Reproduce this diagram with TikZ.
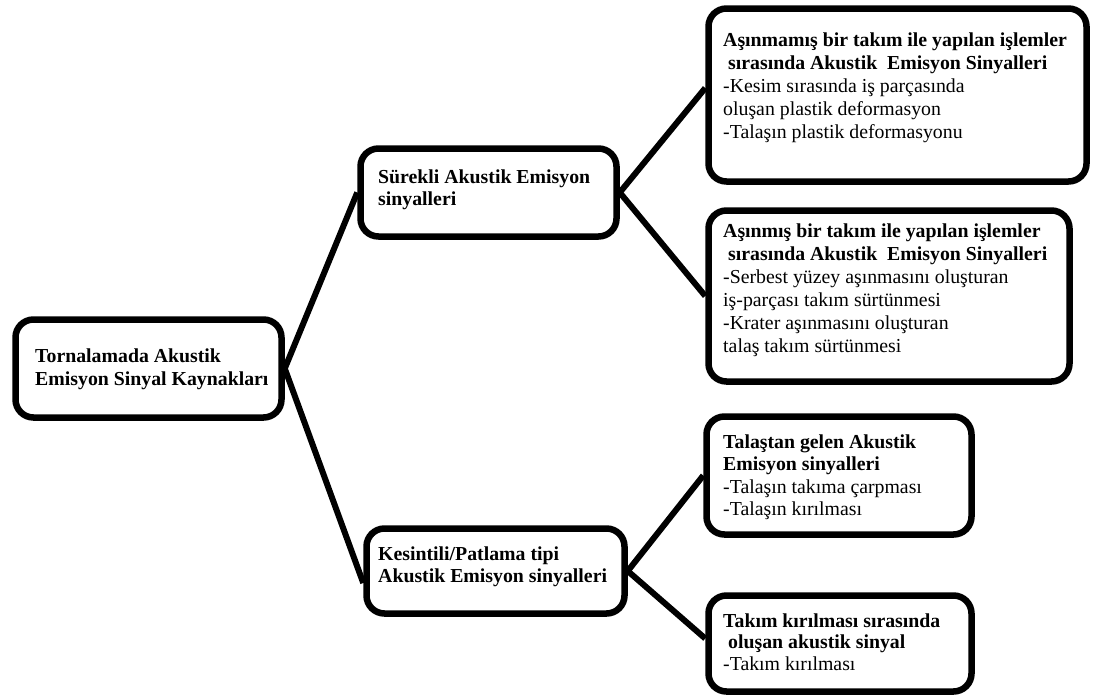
\documentclass[tikz,border=0pt]{standalone}
\usepackage{fontspec}
\setmainfont{Liberation Serif}
\usetikzlibrary{backgrounds}
\begin{document}
\begin{tikzpicture}[x=1pt,y=-1pt,
  box/.style={draw=black, fill=white, line width=6.5pt, rounded corners=18pt, inner sep=0pt},
  link/.style={draw=black, line width=6pt},
  % anchored at the baseline of the last line
  txt/.style={anchor=base west, inner sep=0pt, align=left, font=\fontsize{19.8}{#1}\selectfont},
  txt/.default=22.8,
]
\useasboundingbox (0,0) rectangle (1094,697);

% boxes
\node[box, minimum width=266pt, minimum height=98pt]  (root) at (148.5,368.5) {};
\node[box, minimum width=256pt, minimum height=88pt]  (S)    at (488.5,192.5) {};
\node[box, minimum width=258pt, minimum height=85pt]  (K)    at (495.5,571)   {};
\node[box, minimum width=378pt, minimum height=173pt] (A)    at (897.5,95)    {};
\node[box, minimum width=361pt, minimum height=171pt] (B)    at (889,296)     {};
\node[box, minimum width=265pt, minimum height=118pt] (C)    at (839,475.5)   {};
\node[box, minimum width=263pt, minimum height=96pt]  (D)    at (840,643.5)   {};

% texts
\node[txt=23] (root-t) at (35,385)
  {\textbf{Tornalamada Akustik}\\\textbf{Emisyon Sinyal Kaynakları}};
\node[txt=22] (S-t) at (378,205)
  {\textbf{Sürekli Akustik Emisyon}\\\textbf{sinyalleri}};
\node[txt=22] (K-t) at (378,582)
  {\textbf{Kesintili/Patlama tipi}\\\textbf{Akustik Emisyon sinyalleri}};
\node[txt=23] (A-t) at (723,138)
  {\textbf{Aşınmamış bir takım ile yapılan işlemler}\\
   \textbf{\hspace*{5pt}sırasında Akustik~ Emisyon Sinyalleri}\\
   -Kesim sırasında iş parçasında\\
   oluşan plastik deformasyon\\
   -Talaşın plastik deformasyonu};
\node[txt=23] (B-t) at (723,352)
  {\textbf{Aşınmış bir takım ile yapılan işlemler}\\
   \textbf{\hspace*{5pt}sırasında Akustik~ Emisyon Sinyalleri}\\
   -Serbest yüzey aşınmasını oluşturan\\
   iş-parçası takım sürtünmesi\\
   -Krater aşınmasını oluşturan\\
   talaş takım sürtünmesi};
\node[txt=22.5] (C-t) at (723,515.5)
  {\textbf{Talaştan gelen Akustik}\\
   \textbf{Emisyon sinyalleri}\\
   -Talaşın takıma çarpması\\
   -Talaşın kırılması};
\node[txt=21.5] (D-t) at (723,670)
  {\textbf{Takım kırılması sırasında}\\
   \textbf{\hspace*{5pt}oluşan akustik sinyal}\\
   -Takım kırılması};

% connectors
\begin{scope}[on background layer]
\draw[link] (root.east) -- (S.west);
\draw[link] (root.east) -- ([yshift=-12pt]K.west);
\draw[link] (S.east) -- ([yshift=7pt]A.west);
\draw[link] (S.east) -- (B.west);
\draw[link] (K.east) -- (C.west);
\draw[link] (K.east) -- ([yshift=5pt]D.west);
\end{scope}
\end{tikzpicture}
\end{document}
